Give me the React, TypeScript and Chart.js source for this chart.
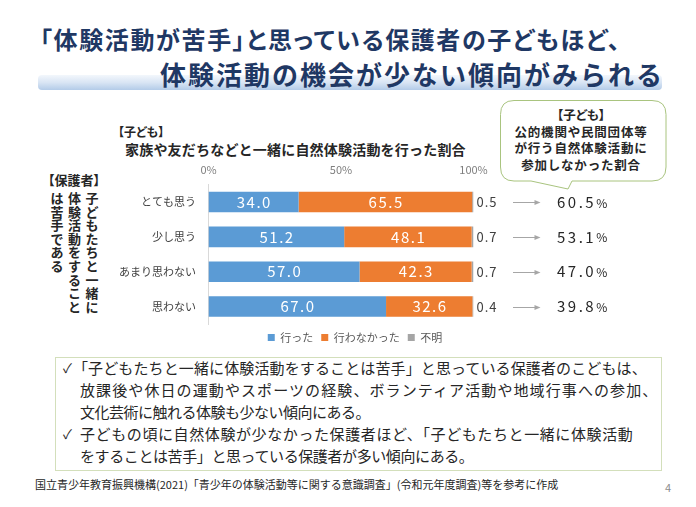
import React, { useEffect, useRef } from "react";
import { Chart, registerables } from "chart.js";

Chart.register(...registerables);

// ---- data ----
const categories = ["とても思う", "少し思う", "あまり思わない", "思わない"];
const seriesNames = ["行った", "行わなかった", "不明"];
const didValues = [34.0, 51.2, 57.0, 67.0];
const didNotValues = [65.5, 48.1, 42.3, 32.6];
const unknownValues = [0.5, 0.7, 0.7, 0.4];
const notJoinedPublic = [60.5, 53.1, 47.0, 39.8];
const xTicks = [0, 50, 100];

const FONT = "'Noto Sans CJK JP', 'Noto Sans', 'DejaVu Sans', sans-serif";
const seriesColors = ["#5b9bd5", "#ed7d31", "#a5a5a5"];

const labelPlugin = {
  id: "valueLabels",
  afterDatasetsDraw(chart: any) {
    const ctx = chart.ctx as CanvasRenderingContext2D;
    const ca = chart.chartArea;
    ctx.save();
    ctx.textBaseline = "middle";
    [didValues, didNotValues].forEach((vals, di) => {
      const meta = chart.getDatasetMeta(di);
      meta.data.forEach((el: any, i: number) => {
        const x = el.x, base = el.base, y = el.y;
        ctx.font = `15px ${FONT}`;
        (ctx as any).letterSpacing = "1.5px";
        ctx.fillStyle = "#ffffff";
        ctx.textAlign = "center";
        ctx.fillText(vals[i].toFixed(1), (x + base) / 2 + 0.75, y);
      });
    });
    const meta2 = chart.getDatasetMeta(2);
    meta2.data.forEach((el: any, i: number) => {
      const y = el.y;
      ctx.textAlign = "left";
      ctx.font = `13px ${FONT}`;
      (ctx as any).letterSpacing = "1px";
      ctx.fillStyle = "#404040";
      ctx.fillText(unknownValues[i].toFixed(1), ca.right + 3, y);
      // arrow
      const x1 = ca.right + 39.5;
      const x2 = ca.right + 67;
      const yy = Math.round(y) + 0.5;
      ctx.strokeStyle = "#a6a6a6";
      ctx.fillStyle = "#a6a6a6";
      ctx.lineWidth = 1;
      ctx.beginPath();
      ctx.moveTo(x1, yy);
      ctx.lineTo(x2 - 4, yy);
      ctx.stroke();
      ctx.beginPath();
      ctx.moveTo(x2, yy);
      ctx.lineTo(x2 - 6, yy - 2.5);
      ctx.lineTo(x2 - 6, yy + 2.5);
      ctx.closePath();
      ctx.fill();
      // percentage
      ctx.fillStyle = "#262626";
      ctx.font = `15px ${FONT}`;
      (ctx as any).letterSpacing = "2.5px";
      const s = notJoinedPublic[i].toFixed(1);
      const px = ca.right + 83.5;
      ctx.fillText(s, px, y);
      const w = ctx.measureText(s).width;
      ctx.font = `12px ${FONT}`;
      (ctx as any).letterSpacing = "0px";
      ctx.fillText("%", px + w, y + 1);
    });
    ctx.restore();
  },
};

function Txt(props: {
  x: number;
  y: number;
  size: number;
  align?: "left" | "right" | "center";
  bold?: boolean;
  color?: string;
  ls?: number;
  palt?: boolean;
  children: any;
}) {
  const { x, y, size, align = "left", bold, color = "#262626", ls = 0, palt } = props;
  const lh = size * 1.2;
  const top = y - lh / 2 - 0.056 * size;
  const style: any = {
    position: "absolute",
    top,
    fontSize: size,
    lineHeight: `${lh}px`,
    whiteSpace: "nowrap",
    fontWeight: bold ? 700 : 400,
    color,
    letterSpacing: ls ? `${ls}px` : undefined,
    fontFeatureSettings: palt ? '"palt" 1' : undefined,
  };
  if (align === "left") style.left = x;
  else if (align === "right") style.right = 696 - x;
  else {
    style.left = x - 300;
    style.width = 600;
    style.textAlign = "center";
  }
  return <div style={style}>{props.children}</div>;
}

const parentColumns = [
  { x: 92, text: "子どもたちと一緒に" },
  { x: 74.5, text: "体験活動をすること" },
  { x: 57, text: "は苦手である" },
];

export default function App() {
  const canvasRef = useRef<HTMLCanvasElement>(null);

  useEffect(() => {
    if (!canvasRef.current) return;
    const chart = new Chart(canvasRef.current, {
      type: "bar",
      data: {
        labels: categories,
        datasets: [didValues, didNotValues, unknownValues].map((d, i) => ({
          label: seriesNames[i],
          data: d,
          backgroundColor: seriesColors[i],
          borderWidth: 0,
          barPercentage: 0.59,
          categoryPercentage: 1,
        })),
      },
      options: {
        indexAxis: "y",
        responsive: false,
        animation: false,
        events: [],
        layout: { padding: 0 },
        plugins: {
          legend: {
            position: "bottom",
            labels: {
              boxWidth: 7,
              boxHeight: 7,
              padding: 8,
              color: "#595959",
              font: { family: FONT, size: 11 },
            },
          },
          tooltip: { enabled: false },
        },
        scales: {
          x: {
            type: "linear",
            position: "top",
            stacked: true,
            min: 0,
            max: 100,
            grid: { display: false, drawTicks: false },
            border: { display: false },
            afterBuildTicks: (s: any) => {
              s.ticks = xTicks.map((v) => ({ value: v }));
            },
            ticks: {
              padding: 8,
              color: "#7f7f7f",
              font: { family: FONT, size: 11 },
              callback: (v: any) => `${v}%`,
            },
            afterFit: (s: any) => {
              s.height = 29.6;
            },
          },
          y: {
            type: "category",
            position: "left",
            stacked: true,
            grid: { display: false, drawTicks: false },
            border: { display: true, color: "#d9d9d9", width: 1 },
            ticks: {
              padding: 12.5,
              color: "#404040",
              font: { family: FONT, size: 11 },
            },
            afterFit: (s: any) => {
              s.width = 114.5;
            },
          },
          y2: {
            type: "category",
            labels: categories,
            position: "right",
            grid: { display: false, drawTicks: false },
            border: { display: false },
            ticks: { display: false },
            afterFit: (s: any) => {
              s.width = 142.5;
            },
          },
        },
      } as any,
      plugins: [labelPlugin],
    });
    return () => chart.destroy();
  }, []);

  return (
    <div
      style={{
        position: "fixed",
        left: 0,
        top: 0,
        width: 696,
        height: 507,
        background: "#ffffff",
        overflow: "hidden",
        fontFamily: FONT,
        color: "#262626",
      }}
    >
      {/* title underline bar */}
      <div
        style={{
          position: "absolute",
          left: 38,
          top: 75,
          width: 624,
          height: 15,
          borderRadius: 4,
          background: "linear-gradient(to bottom, #f3f7fc 0%, #d9e5f4 50%, #b3cbe8 100%)",
        }}
      />
      <Txt x={40} y={41} size={24} bold color="#1f3864" ls={1.6} palt>
        「体験活動が苦手」と思っている保護者の子どもほど、
      </Txt>
      <Txt x={664} y={75} size={26} bold color="#1f3864" ls={2} align="right">
        体験活動の機会が少ない傾向がみられる
      </Txt>

      {/* chart heading */}
      <Txt x={118} y={133} size={12} bold palt>
        【子ども】
      </Txt>
      <Txt x={125} y={150} size={14} bold ls={0.2}>
        家族や友だちなどと一緒に自然体験活動を行った割合
      </Txt>

      {/* parent label */}
      <Txt x={48} y={181} size={13} bold palt>
        【保護者】
      </Txt>
      {parentColumns.map((col, ci) =>
        Array.from(col.text).map((ch, i) => (
          <Txt key={`${ci}-${i}`} x={col.x} y={198.5 + i * 13.6} size={13} bold align="center">
            {ch}
          </Txt>
        ))
      )}

      {/* callout */}
      <svg width={696} height={507} style={{ position: "absolute", left: 0, top: 0 }}>
        <path
          d="M 514 100.5 H 652 Q 666 100.5 666 114.5 V 167 Q 666 181 652 181 H 572 L 568 189 L 531 181 H 514 Q 500.5 181 500.5 167 V 114.5 Q 500.5 100.5 514 100.5 Z"
          fill="#ffffff"
          stroke="#a9c47f"
          strokeWidth={1}
        />
      </svg>
      <Txt x={581} y={115} size={12.5} bold align="center" palt>
        【子ども】
      </Txt>
      <Txt x={581} y={132} size={12.5} bold align="center" ls={0.8}>
        公的機関や民間団体等
      </Txt>
      <Txt x={581} y={148.5} size={12.5} bold align="center" ls={0.8}>
        が行う自然体験活動に
      </Txt>
      <Txt x={581} y={165} size={12.5} bold align="center" ls={0.8}>
        参加しなかった割合
      </Txt>

      {/* chart */}
      <canvas
        ref={canvasRef}
        width={522}
        height={198}
        style={{ position: "absolute", left: 94, top: 155, width: 522, height: 198 }}
      />

      {/* bottom text box */}
      <div
        style={{
          position: "absolute",
          left: 55,
          top: 357,
          width: 607,
          height: 114,
          border: "1px solid #d3dfbb",
          boxSizing: "border-box",
        }}
      />
      <Txt x={63} y={369} size={13}>
        ✓
      </Txt>
      <Txt x={73} y={369} size={15} ls={0.12}>
        「子どもたちと一緒に体験活動をすることは苦手」と思っている保護者のこどもは、
      </Txt>
      <Txt x={80} y={391} size={15} ls={1.1}>
        放課後や休日の運動やスポーツの経験、ボランティア活動や地域行事への参加、
      </Txt>
      <Txt x={80} y={413} size={15} ls={-0.5}>
        文化芸術に触れる体験も少ない傾向にある。
      </Txt>
      <Txt x={63} y={435} size={13}>
        ✓
      </Txt>
      <Txt x={80} y={435} size={15} ls={0.6}>
        子どもの頃に自然体験が少なかった保護者ほど、「子どもたちと一緒に体験活動
      </Txt>
      <Txt x={80} y={457} size={15} ls={-0.4}>
        をすることは苦手」と思っている保護者が多い傾向にある。
      </Txt>

      {/* footer */}
      <Txt x={35} y={485} size={11}>
        国立青少年教育振興機構(2021)「青少年の体験活動等に関する意識調査」(令和元年度調査)等を参考に作成
      </Txt>
      <Txt x={665} y={488} size={11} color="#8c8c8c">
        4
      </Txt>
    </div>
  );
}
